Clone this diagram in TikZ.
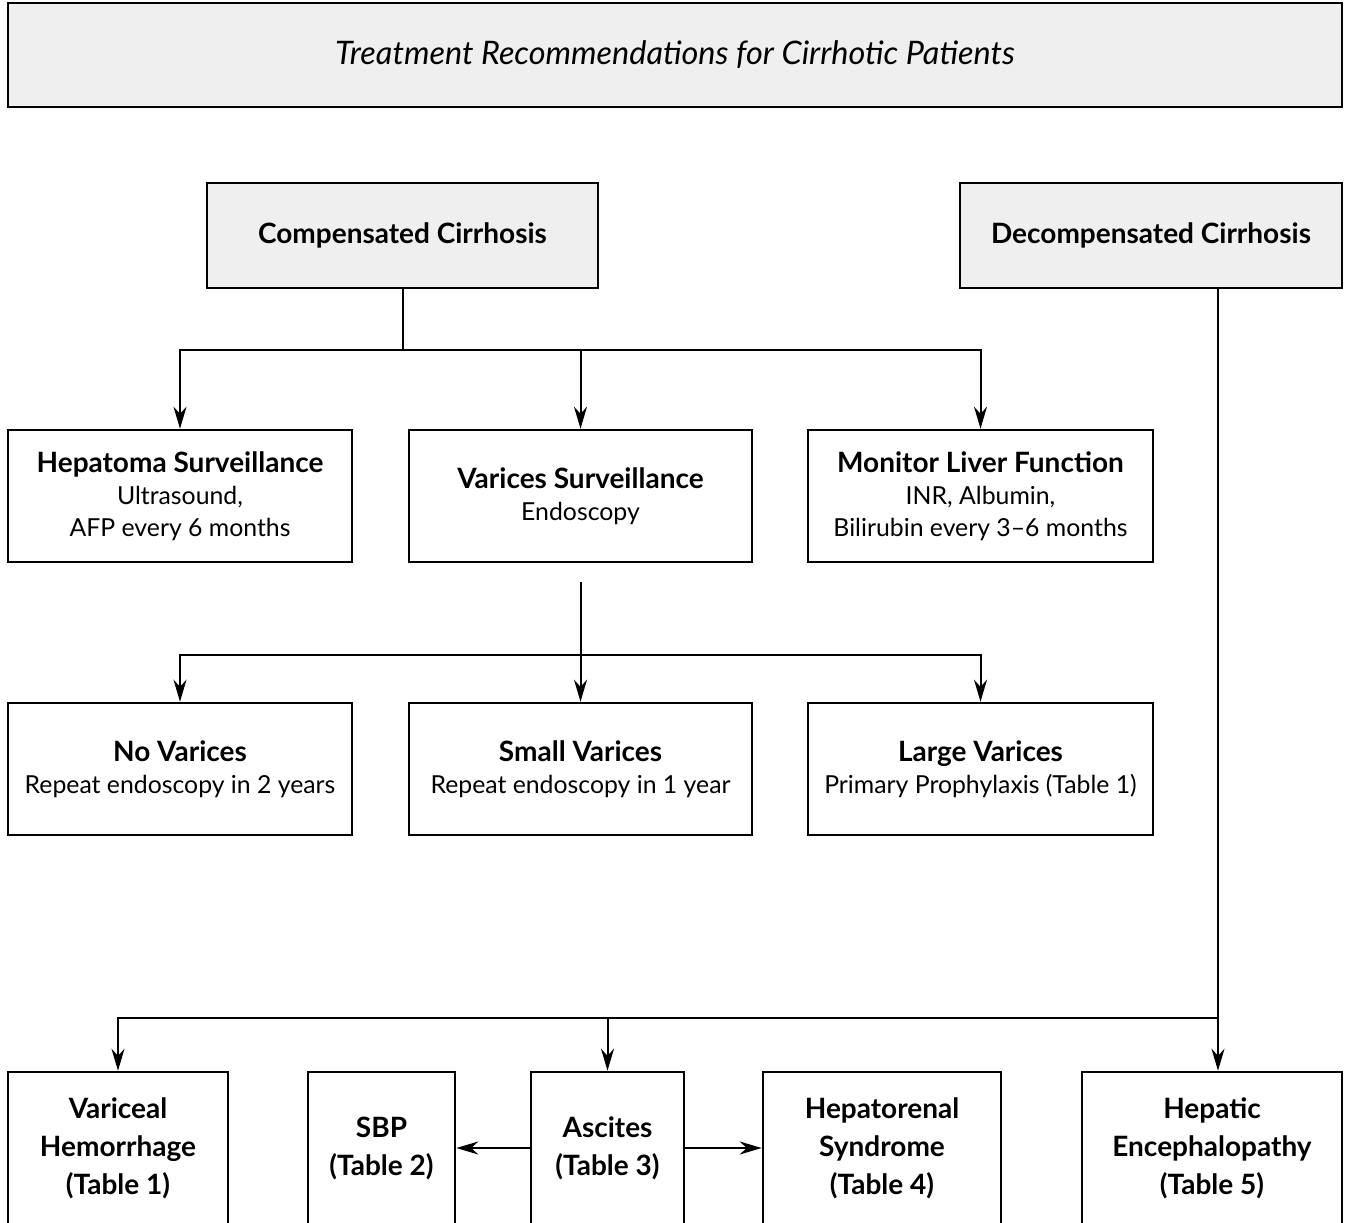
\documentclass[tikz,border=0pt]{standalone}
\usepackage{fontspec}
\setmainfont{Lato}
\usetikzlibrary{arrows.meta,positioning}
\definecolor{boxgray}{RGB}{239,239,239}
\newcommand{\hd}[1]{{\fontsize{14}{16}\selectfont\bfseries #1}}
\tikzset{
  box/.style={draw, line width=1.3pt, rectangle, align=center, inner sep=0pt, font=\fontsize{12.4}{16}\selectfont},
  grey/.style={box, fill=boxgray},
  bot/.style={box, minimum height=76pt, font=\fontsize{14}{19}\selectfont\bfseries},
  arr/.style={-{Stealth[length=11pt,width=6.5pt]}, line width=1pt},
  ln/.style={line width=1pt}
}
\begin{document}
\begin{tikzpicture}[x=0.5pt,y=-0.5pt]
        % Page frame
        \useasboundingbox (0,0) rectangle (1350,1222);

        % Title and the two cirrhosis boxes
        \node[grey, minimum width=667pt, minimum height=52pt, font=\fontsize{16.2}{18}\selectfont\itshape] (title) at (675,55) {Treatment Recommendations for Cirrhotic Patients};
        \node[grey, minimum width=195.5pt, minimum height=52.5pt] (comp) at (402.5,235.5) {\hd{Compensated Cirrhosis}};
        \node[grey, minimum width=191pt, minimum height=52.5pt] (dec) at (1151,235.5) {\hd{Decompensated Cirrhosis}};

        % Surveillance row
        \node[box, minimum width=172pt, minimum height=66pt] (hep) at (180,496) {\hd{Hepatoma Surveillance}\\Ultrasound,\\AFP every 6 months};
        \node[box, minimum width=171.5pt, minimum height=66pt] (vs) at (580.5,496) {\hd{Varices Surveillance}\\Endoscopy};
        \node[box, minimum width=172.5pt, minimum height=66pt] (mon) at (980.5,496) {\hd{Monitor Liver Function}\\INR, Albumin,\\Bilirubin every 3--6 months};

        % Varices row
        \node[box, minimum width=172pt, minimum height=66pt] (nov) at (180,769) {\hd{No Varices}\\Repeat endoscopy in 2 years};
        \node[box, minimum width=171.5pt, minimum height=66pt] (smv) at (580.5,769) {\hd{Small Varices}\\Repeat endoscopy in 1 year};
        \node[box, minimum width=172.5pt, minimum height=66pt] (lgv) at (980.5,769) {\hd{Large Varices}\\Primary Prophylaxis (Table 1)};

        % Complications row (cut by the page edge)
        \node[bot, minimum width=110pt] (var) at (118,1148) {Variceal\\Hemorrhage\\(Table 1)};
        \node[bot, minimum width=73.5pt] (sbp) at (381.5,1148) {SBP\\(Table 2)};
        \node[bot, minimum width=76.5pt] (asc) at (607.5,1148) {Ascites\\(Table 3)};
        \node[bot, minimum width=119pt] (hrs) at (882,1148) {Hepatorenal\\Syndrome\\(Table 4)};
        \node[bot, minimum width=130pt] (hen) at (1212,1148) {Hepatic\\Encephalopathy\\(Table 5)};

        % Junctions
        \coordinate (j1) at (402.5,350);
        \coordinate (v0) at (580.5,582);
        \coordinate (j2) at (580.5,655);
        \coordinate (j3) at (1218,1018);

        % Compensated branch
        \draw[ln] (comp.south) -- (j1);
        \foreach \t in {hep,vs,mon}
            \draw[arr] (j1) -| (\t.north);

        % Varices branch
        \draw[arr] (v0) -- (smv.north);
        \foreach \t in {nov,lgv}
            \draw[arr] (j2) -| (\t.north);

        % Decompensated branch
        \draw[arr] (dec.south -| j3) -- (j3 |- hen.north);
        \draw[arr] (j3) -| (var.north);
        \draw[arr] (asc.north |- j3) -- (asc.north);
        \draw[arr] (asc.west) -- (sbp.east);
        \draw[arr] (asc.east) -- (hrs.west);
    \end{tikzpicture}
\end{document}
